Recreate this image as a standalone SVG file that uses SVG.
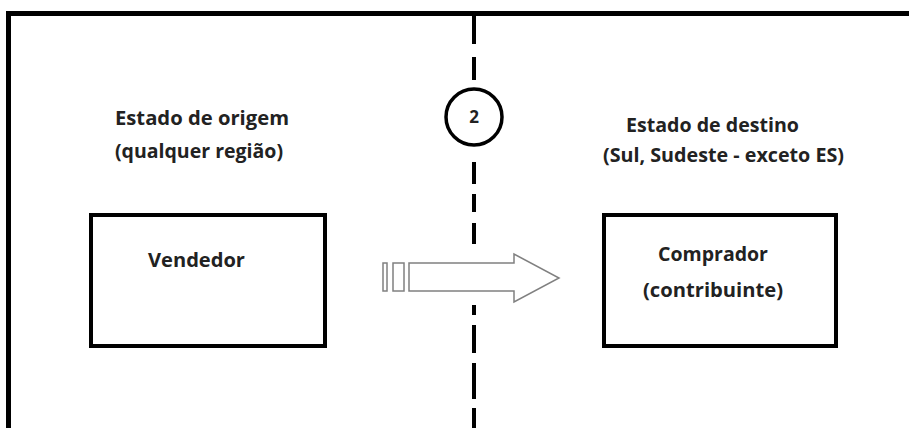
<svg xmlns="http://www.w3.org/2000/svg" width="909" height="428" viewBox="0 0 909 428">
<style>
.t{font-family:"Open Sans","Noto Sans","Liberation Sans",sans-serif;font-weight:bold;font-size:20px;fill:#222}
.box{fill:#fff;stroke:#000;stroke-width:4}
.dash{stroke:#000;stroke-width:4;fill:none}
.arr{fill:#fff;stroke:#808080;stroke-width:1.5}
</style>
<rect x="0" y="0" width="909" height="428" fill="#fff"/>
<rect id="frame" x="8.5" y="13.5" width="940" height="460" fill="none" stroke="#000" stroke-width="5"/>
<g id="connectors">
  <g class="dash">
    <line x1="474" y1="16" x2="474" y2="44"/>
    <line x1="474" y1="57" x2="474" y2="80"/>
    <line x1="474" y1="162" x2="474" y2="184"/>
    <line x1="474" y1="194" x2="474" y2="212"/>
    <line x1="474" y1="223" x2="474" y2="244"/>
    <line x1="474" y1="305" x2="474" y2="315"/>
    <line x1="474" y1="325" x2="474" y2="353"/>
    <line x1="474" y1="363" x2="474" y2="399"/>
    <line x1="474" y1="408" x2="474" y2="430"/>
  </g>
  <g id="arrow" class="arr">
    <rect x="383" y="263" width="4" height="28"/>
    <rect x="393" y="263" width="11" height="28"/>
    <path d="M409 263 H514 V254 L559 278 L514 302 V291 H409 Z"/>
  </g>
</g>
<g id="marker2">
  <circle cx="474" cy="117" r="28" fill="#fff" stroke="#000" stroke-width="3.5"/>
  <text x="474" y="123" text-anchor="middle" style="font-family:'Open Sans','Liberation Sans',sans-serif;font-weight:bold;font-size:17px;fill:#222">2</text>
</g>
<g id="origem">
  <text class="t" x="115" y="125" textLength="174" lengthAdjust="spacingAndGlyphs">Estado de origem</text>
  <text class="t" x="115" y="158" textLength="168" lengthAdjust="spacingAndGlyphs">(qualquer região)</text>
</g>
<g id="destino">
  <text class="t" x="626" y="132" textLength="173" lengthAdjust="spacingAndGlyphs">Estado de destino</text>
  <text class="t" x="603" y="162" textLength="241" lengthAdjust="spacingAndGlyphs">(Sul, Sudeste - exceto ES)</text>
</g>
<g id="vendedor">
  <rect class="box" x="91" y="215" width="234" height="131"/>
  <text class="t" x="148" y="267" textLength="97" lengthAdjust="spacingAndGlyphs">Vendedor</text>
</g>
<g id="comprador">
  <rect class="box" x="604" y="215" width="232" height="131"/>
  <text class="t" x="658" y="261" textLength="110" lengthAdjust="spacingAndGlyphs">Comprador</text>
  <text class="t" x="643" y="297" textLength="140" lengthAdjust="spacingAndGlyphs">(contribuinte)</text>
</g>
</svg>
